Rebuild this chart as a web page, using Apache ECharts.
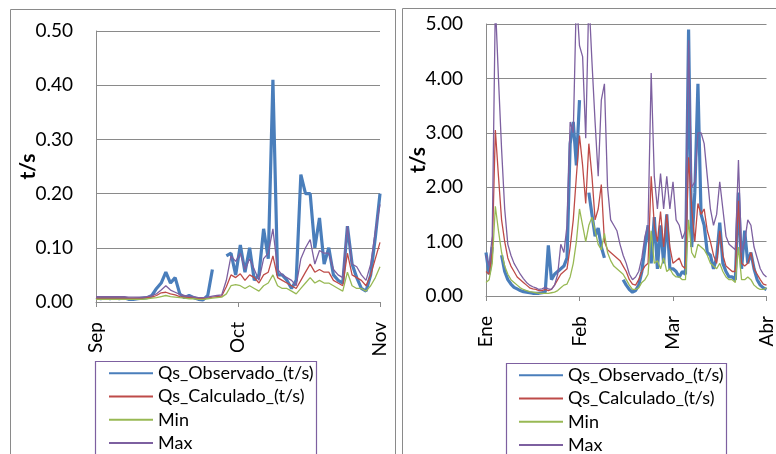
<!DOCTYPE html>
<html>
<head>
<meta charset="utf-8">
<script src="https://cdn.jsdelivr.net/npm/echarts@6/dist/echarts.min.js"></script>
<style>
  html, body { margin: 0; padding: 0; background: #fff; }
  #chart { width: 776px; height: 454px; }
</style>
</head>
<body>
<div id="chart"></div>
<script>
// series names (legend order)
var seriesNames = ['Qs_Observado_(t/s)', 'Qs_Calculado_(t/s)', 'Min', 'Max'];

// left panel: Sep 1 .. Nov 1, one value per day
var leftMonths = ['Sep', 'Oct', 'Nov'];
var leftMonthDays = [0, 30.5, 61];
var leftObs = [
  0.008, 0.006, 0.008, 0.006, 0.008, 0.006, 0.008, 0.005, 0.005, 0.006,
  0.007, 0.008, 0.012, 0.025, 0.035, 0.055, 0.035, 0.045, 0.015, 0.008,
  0.012, 0.008, 0.005, 0.004, 0.012, 0.06, null, null, 0.085, 0.09,
  0.05, 0.105, 0.055, 0.1, 0.04, 0.05, 0.135, 0.08, 0.41, 0.05,
  0.05, 0.04, 0.025, 0.04, 0.235, 0.2, 0.2, 0.1, 0.155, 0.07,
  0.1, 0.05, 0.04, 0.035, 0.14, 0.07, 0.045, 0.025, 0.02, 0.05,
  0.12, 0.2
];
var leftCalc = [
  0.007, 0.007, 0.007, 0.007, 0.007, 0.007, 0.007, 0.007, 0.007, 0.007,
  0.007, 0.008, 0.009, 0.012, 0.017, 0.018, 0.015, 0.013, 0.01, 0.009,
  0.008, 0.007, 0.006, 0.006, 0.007, 0.009, 0.01, 0.011, 0.028, 0.05,
  0.045, 0.052, 0.04, 0.05, 0.045, 0.035, 0.05, 0.055, 0.085, 0.045,
  0.04, 0.035, 0.03, 0.025, 0.04, 0.055, 0.07, 0.055, 0.06, 0.055,
  0.055, 0.04, 0.035, 0.03, 0.09, 0.05, 0.045, 0.04, 0.03, 0.05,
  0.08, 0.11
];
var leftMin = [
  0.005, 0.005, 0.005, 0.005, 0.005, 0.005, 0.005, 0.005, 0.005, 0.005,
  0.005, 0.006, 0.007, 0.008, 0.01, 0.012, 0.01, 0.009, 0.008, 0.007,
  0.006, 0.006, 0.005, 0.005, 0.006, 0.007, 0.008, 0.009, 0.015, 0.03,
  0.032, 0.03, 0.025, 0.03, 0.025, 0.02, 0.03, 0.035, 0.05, 0.03,
  0.025, 0.025, 0.02, 0.015, 0.025, 0.035, 0.045, 0.035, 0.04, 0.035,
  0.035, 0.03, 0.025, 0.02, 0.055, 0.03, 0.025, 0.025, 0.02, 0.03,
  0.045, 0.065
];
var leftMax = [
  0.01, 0.01, 0.01, 0.01, 0.01, 0.01, 0.01, 0.009, 0.009, 0.009,
  0.009, 0.01, 0.012, 0.015, 0.022, 0.03, 0.022, 0.018, 0.014, 0.012,
  0.011, 0.01, 0.008, 0.008, 0.009, 0.011, 0.012, 0.013, 0.04, 0.085,
  0.075, 0.09, 0.06, 0.08, 0.06, 0.04, 0.08, 0.09, 0.135, 0.06,
  0.05, 0.045, 0.04, 0.03, 0.08, 0.1, 0.115, 0.07, 0.095, 0.09,
  0.09, 0.06, 0.05, 0.045, 0.14, 0.07, 0.065, 0.05, 0.04, 0.07,
  0.13, 0.18
];

// right panel: Ene 1 .. Abr 1, one value per day
var rightMonths = ['Ene', 'Feb', 'Mar', 'Abr'];
var rightMonthDays = [0, 30, 60, 90];
var rightObs = [
  0.8, 0.4, 0.9, null, null, 0.75, 0.45, 0.3, 0.22, 0.16,
  0.13, 0.1, 0.08, 0.07, 0.06, 0.05, 0.05, 0.05, 0.06, 0.07,
  0.93, 0.3, 0.4, 0.45, 0.5, 0.55, 0.7, 2.8, 3.2, 2.4,
  3.6, null, null, 1.9, 1.5, 1.1, 1.25, 0.9, 0.7, null,
  null, null, null, null, 0.3, 0.2, 0.12, 0.07, 0.1, 0.2,
  0.45, 0.9, 1.3, 0.6, 1.45, 0.5, 1.3, 0.6, 1.5, 0.5,
  0.5, 0.45, 0.35, 0.45, 0.4, 4.9, 0.9, 1.9, 3.9, 1.5,
  1.3, 0.8, 0.75, 0.5, 0.7, 1.35, 0.6, 0.45, 0.35, 0.35,
  0.3, 1.9, 0.5, 1.2, 0.6, 0.8, 0.5, 0.3, 0.2, 0.15,
  0.12
];
var rightCalc = [
  0.45, 0.4, 0.8, 3.05, 2.2, 1.4, 1.0, 0.7, 0.55, 0.45,
  0.35, 0.3, 0.25, 0.2, 0.15, 0.13, 0.12, 0.1, 0.1, 0.12,
  0.1, 0.12, 0.2, 0.3, 0.4, 0.45, 0.5, 0.9, 1.4, 2.2,
  2.95, 2.4, 1.7, 2.8, 2.2, 1.4, 1.6, 2.05, 1.0, 0.85,
  0.8, 0.75, 0.7, 0.65, 0.55, 0.45, 0.3, 0.22, 0.2, 0.3,
  0.45, 0.55, 0.6, 2.2, 1.3, 1.0, 1.55, 0.9, 1.5, 0.9,
  0.6, 0.65, 0.7, 0.55, 0.5, 2.55, 1.6, 1.0, 1.7, 1.5,
  1.6, 1.2, 1.0, 0.75, 0.6, 1.2, 0.75, 0.55, 0.5, 0.45,
  0.45, 1.75, 0.6, 0.55, 0.6, 0.8, 0.5, 0.4, 0.3, 0.22,
  0.2
];
var rightMin = [
  0.25, 0.3, 0.6, 1.65, 1.2, 0.8, 0.55, 0.4, 0.3, 0.25,
  0.2, 0.15, 0.12, 0.1, 0.08, 0.07, 0.06, 0.05, 0.05, 0.05,
  0.05, 0.06, 0.07, 0.1, 0.15, 0.2, 0.22, 0.35, 0.6, 1.0,
  1.6, 1.3, 1.0, 1.3, 1.45, 1.2, 0.95, 0.85, 1.15, 0.8,
  0.65, 0.55, 0.5, 0.45, 0.4, 0.3, 0.2, 0.12, 0.12, 0.15,
  0.25, 0.3, 0.4, 1.2, 0.6, 0.65, 0.5, 0.7, 0.45, 0.5,
  0.4, 0.35, 0.35, 0.3, 0.3, 1.4, 0.8, 0.7, 0.95, 0.9,
  0.85, 0.75, 0.6, 0.55, 0.5, 0.6, 0.45, 0.35, 0.3, 0.3,
  0.25, 0.9, 0.3, 0.3, 0.35, 0.3, 0.2, 0.15, 0.12, 0.12,
  0.15
];
var rightMax = [
  0.75, 0.55, 1.1, 5.4, 4.0, 2.7, 1.6, 0.95, 0.75, 0.6,
  0.5, 0.4, 0.32, 0.25, 0.2, 0.17, 0.15, 0.12, 0.13, 0.16,
  0.13, 0.12, 0.2, 0.4, 0.95, 0.8, 1.3, 3.2, 3.0, 5.5,
  4.6, 4.4, 2.9, 5.5, 4.3, 3.2, 2.2, 3.6, 3.9, 2.0,
  1.4, 1.3, 1.2, 0.95, 0.75, 0.6, 0.4, 0.3, 0.35, 0.45,
  0.7, 1.1, 1.3, 4.1, 2.2, 1.6, 2.25, 1.6, 2.2, 1.6,
  2.1, 1.4, 1.3, 1.05, 1.2, 4.7, 2.0, 2.1, 3.0, 3.0,
  2.8, 2.2, 1.6, 1.3, 1.5, 2.1, 1.6, 1.1, 0.95, 0.9,
  0.85, 2.5, 0.8, 1.0, 1.4, 1.3, 0.9, 0.7, 0.5, 0.4,
  0.35
];

var colors = ['#4A7EBB', '#BE4B48', '#98B954', '#7D60A0'];
var widths = [3.2, 1.3, 1.3, 1.3];
var grey = '#8a8a8a';
var font = 'Lato, "Open Sans", sans-serif';

function pairs(arr) {
  return arr.map(function(v, i) { return [i, v == null ? '-' : v]; });
}

function xAxisFor(idx, maxDay, ticks, names) {
  return {
    type: 'value', gridIndex: idx, min: 0, max: maxDay,
    splitLine: { show: false },
    axisLine: { lineStyle: { color: grey, width: 1 } },
    axisTick: { customValues: ticks, length: 5, lineStyle: { color: grey } },
    axisLabel: {
      customValues: ticks, rotate: 90, margin: 20,
      color: '#000', fontSize: 19, fontFamily: font,
      formatter: function(v) { return names[ticks.indexOf(v)]; }
    }
  };
}

function yAxisFor(idx, maxVal, step) {
  return {
    type: 'value', gridIndex: idx, min: 0, max: maxVal, interval: step,
    name: 't/s', nameLocation: 'middle', nameGap: 57, nameRotate: 90,
    nameMoveOverlap: false,
    nameTextStyle: { color: '#000', fontSize: 21, fontWeight: 'bold', fontFamily: font },
    axisLine: { show: true, lineStyle: { color: grey, width: 1 } },
    axisTick: { show: false },
    splitLine: { lineStyle: { color: grey, width: 1.2 } },
    axisLabel: {
      margin: 23, color: '#000', fontSize: 19, fontFamily: font,
      formatter: function(v) { return v.toFixed(2); }
    }
  };
}

var leftSets = [leftObs, leftCalc, leftMin, leftMax];
var rightSets = [rightObs, rightCalc, rightMin, rightMax];
var series = [];
[leftSets, rightSets].forEach(function(sets, g) {
  sets.forEach(function(arr, k) {
    series.push({
      name: seriesNames[k], type: 'line', xAxisIndex: g, yAxisIndex: g,
      data: pairs(arr), symbol: 'none', clip: true,
      lineStyle: { color: colors[k], width: widths[k] },
      itemStyle: { color: colors[k] }
    });
  });
});

function legendFor(left, top) {
  return {
    orient: 'vertical', left: left, top: top, height: 120, padding: 0,
    itemWidth: 44, itemHeight: 14, itemGap: 5,
    itemStyle: { opacity: 0 },
    data: seriesNames,
    textStyle: { color: '#000', fontSize: 18, fontFamily: font, lineHeight: 18.3 }
  };
}

var chart = echarts.init(document.getElementById('chart'), null, { renderer: 'canvas' });
chart.setOption({
  animation: false,
  backgroundColor: '#fff',
  grid: [
    { left: 96, top: 31, width: 284, height: 271 },
    { left: 486, top: 24, width: 284, height: 272 }
  ],
  xAxis: [
    xAxisFor(0, 61, leftMonthDays, leftMonths),
    xAxisFor(1, 90, rightMonthDays, rightMonths)
  ],
  yAxis: [yAxisFor(0, 0.5, 0.1), yAxisFor(1, 5, 1)],
  legend: [legendFor(108, 364), legendFor(518, 366)],
  graphic: [
    { type: 'rect', shape: { x: 10.5, y: 9.5, width: 385, height: 470 },
      style: { fill: 'none', stroke: grey, lineWidth: 1 }, silent: true },
    { type: 'rect', shape: { x: 402.5, y: 8.5, width: 400, height: 470 },
      style: { fill: 'none', stroke: grey, lineWidth: 1 }, silent: true },
    { type: 'rect', shape: { x: 95.5, y: 361.5, width: 221, height: 110 },
      style: { fill: 'none', stroke: '#7D60A0', lineWidth: 1.2 }, silent: true },
    { type: 'rect', shape: { x: 506.5, y: 363.5, width: 220, height: 110 },
      style: { fill: 'none', stroke: '#7D60A0', lineWidth: 1.2 }, silent: true }
  ],
  series: series
});
</script>
</body>
</html>
